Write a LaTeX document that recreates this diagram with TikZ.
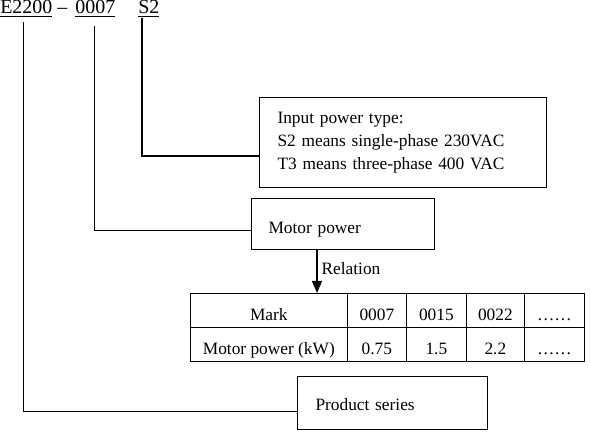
\documentclass[tikz,border=0pt]{standalone}
\usepackage{fontspec}
\setmainfont{Liberation Serif}
\usetikzlibrary{arrows.meta}

\begin{document}
\begin{tikzpicture}[x=0.75pt,y=-0.75pt,>={Triangle[width=7.5pt,length=9pt]},
  link/.style={line width=1.1pt},
  code/.style={anchor=base west,inner sep=0pt,font=\fontsize{15}{18}\selectfont},
  box/.style={draw,line width=0.8pt,anchor=north west,inner ysep=0pt,inner xsep=13.5pt,
    align=left,font=\fontsize{13}{17.25}\selectfont},
  cell/.style={draw,line width=0.5pt,anchor=north west,inner sep=0pt,minimum height=25.5pt,
    text height=20.25pt,text depth=5.25pt,font=\fontsize{13}{15}\selectfont}]
\useasboundingbox (0,0) rectangle (590,434);

% type code
\node[code] (series) at (0,14) {\underline{E2200}};
\node[code] (dash) at (57,14) {--};
\node[code] (power) at (75,14) {\underline{0007}};
\node[code] (supply) at (138,14) {\underline{S2}};

% explanation boxes
\node[box,text width=188.25pt,minimum height=67.5pt] (inbox) at (259,97)
  {Input power type:\\S2 means single-phase 230VAC\\T3 means three-phase 400 VAC};
\node[box,inner xsep=12.75pt,text width=111.75pt,minimum height=38.25pt,
  text height=26.25pt,text depth=12pt] (motor) at (251,198) {Motor power};
\node[box,text width=115.5pt,minimum height=39.75pt,
  text height=25.5pt,text depth=14.25pt] (product) at (297,376) {Product series};

% relation table
\foreach \xa/\xb/\ta/\tb [count=\i] in {190/347/Mark/Motor power (kW),347/406/0007/0.75,
  406/466/0015/1.5,466/524/0022/2.2,524/584/……/……}
{
  \node[cell,minimum width={(\xb-\xa)*0.75pt}] (mark\i) at (\xa,293) {\ta};
  \node[cell,minimum width={(\xb-\xa)*0.75pt}] (kw\i) at (\xa,327) {\tb};
}

\draw[link] ([xshift=-5.25pt,yshift=-0.5pt]supply.south) |- ([yshift=-10.1pt]inbox.west);
\draw[link] ([xshift=-0.75pt,yshift=-6.4pt]power.south) |- ([yshift=-4.9pt]motor.west);
\draw[link] ([xshift=-2.25pt,yshift=-4pt]series.south) |- ([yshift=-6.4pt]product.west);

\coordinate (rel) at (317,293);
\draw[line width=0.9pt,->] (motor.south -| rel) -- (rel)
  node[pos=0.57,anchor=base west,inner sep=0pt,xshift=3pt,font=\fontsize{13}{15}\selectfont] {Relation};
\end{tikzpicture}
\end{document}
